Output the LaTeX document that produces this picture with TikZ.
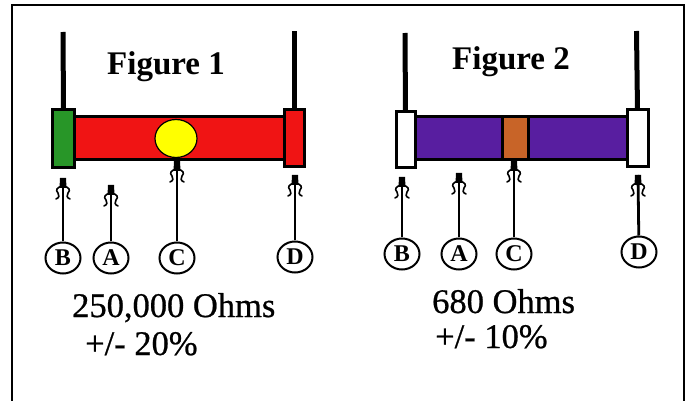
\documentclass[tikz,border=0pt]{standalone}
\usepackage{fontspec}
\setmainfont{Liberation Serif}
\newfontfamily\valuefont{Liberation Serif}[FakeBold=0.7]
\usetikzlibrary{shapes.geometric}

\definecolor{bodyred}{RGB}{240,20,20}
\definecolor{capgreen}{RGB}{40,150,40}
\definecolor{bodypurple}{RGB}{88,30,160}
\definecolor{bandorange}{RGB}{200,100,40}
\definecolor{dotyellow}{RGB}{255,255,0}

\tikzset{
  lead/.style={line width=5pt},
  part/.style={rectangle,draw=black,line width=3pt,inner sep=0pt,outer sep=0pt},
  pointer/.style={line width=2.8pt},
  tag/.style={ellipse,draw,line width=2pt,minimum width=35pt,minimum height=31pt,
    inner sep=0pt,fill=white,font=\fontsize{24}{24}\selectfont\bfseries},
  title/.style={font=\fontsize{33}{33}\selectfont\bfseries,anchor=base,inner sep=0pt},
  value/.style={font=\valuefont\fontsize{34.5}{34.5}\selectfont,anchor=base west,inner sep=0pt},
  feather/.pic={
    \fill (-3,0) -- (3,0) -- (3.5,10) -- (-3.5,10) -- cycle;
    \draw[line width=1.6pt,line cap=round] (0,8) .. controls (-6,9) and (-8,12) .. (-5,15)
      .. controls (-3,17) and (-4,20) .. (-7,21);
    \draw[line width=1.6pt,line cap=round] (0,8) .. controls (6,9) and (8,12) .. (5,15)
      .. controls (3,17) and (4,20) .. (7,21);
  }
}

\begin{document}
\begin{tikzpicture}[x=1pt,y=-1pt]
\useasboundingbox[fill=white] (0,0) rectangle (689,401);

% outer frame (open at the bottom)
\draw[line width=2pt] (12,401) -- (12,5) -- (684,5) -- (684,401);

% ---------------- Figure 1 ----------------
\node[title] (title1) at (166,75) {Figure 1};

\node[part,fill=bodyred,minimum width=214pt,minimum height=43pt] (body1) at (180,138.5) {};
\node[ellipse,draw=black,line width=1.2pt,fill=dotyellow,minimum width=42pt,minimum height=38pt,inner sep=0pt] (dot1) at (176,138.5) {};
\node[part,fill=capgreen,minimum width=22pt,minimum height=58pt] (capL1) at (63.5,139) {};
\node[part,fill=bodyred,minimum width=20pt,minimum height=57pt] (capR1) at (294.5,138) {};

\coordinate (topL1) at (63,32);
\coordinate (topR1) at (294.5,31);
\draw[lead] (capL1.north) -- (topL1);
\draw[lead] (capR1.north) -- (topR1);

\node[tag] (tagB1) at (63,258) {B};
\node[tag] (tagA1) at (111,258) {A};
\node[tag] (tagC1) at (177,258) {C};
\node[tag] (tagD1) at (295,257) {D};

\coordinate (tipB1) at (63,178);
\coordinate (tipA1) at (111,185);
\coordinate (tipC1) at (177,161);
\coordinate (tipD1) at (295,175);

\foreach \k in {B1,A1,C1,D1}{
  \draw[pointer] (tag\k) -- (tip\k);
  \pic at (tip\k) {feather};
}

\node[value] (ohms1) at (72,317) {250,000 Ohms};
\node[value] (tol1) at (85,355) {+/- 20\%};

% ---------------- Figure 2 ----------------
\node[title] (title2) at (511,70) {Figure 2};

\node[part,fill=bodypurple,minimum width=212pt,minimum height=43pt] (body2) at (521,138.5) {};
\node[part,fill=bandorange,minimum width=26pt,minimum height=43pt] (band2) at (515,138.5) {};
\node[part,fill=white,minimum width=19pt,minimum height=56pt] (capL2) at (405.5,140) {};
\node[part,fill=white,minimum width=21pt,minimum height=57pt] (capR2) at (637.5,138.5) {};

\coordinate (topL2) at (405,33);
\coordinate (topR2) at (636.5,31);
\draw[lead] (capL2.north) -- (topL2);
\draw[lead] (capR2.north) -- (topR2);

\node[tag] (tagB2) at (402,254) {B};
\node[tag] (tagA2) at (459,254) {A};
\node[tag] (tagC2) at (514,254) {C};
\node[tag] (tagD2) at (639,252) {D};

\coordinate (tipB2) at (402,177);
\coordinate (tipA2) at (459,173);
\coordinate (tipC2) at (514,161);
\coordinate (tipD2) at (638,175);

\foreach \k in {B2,A2,C2,D2}{
  \draw[pointer] (tag\k) -- (tip\k);
  \pic at (tip\k) {feather};
}

\node[value] (ohms2) at (432,313) {680 Ohms};
\node[value] (tol2) at (435,348) {+/- 10\%};
\end{tikzpicture}
\end{document}
